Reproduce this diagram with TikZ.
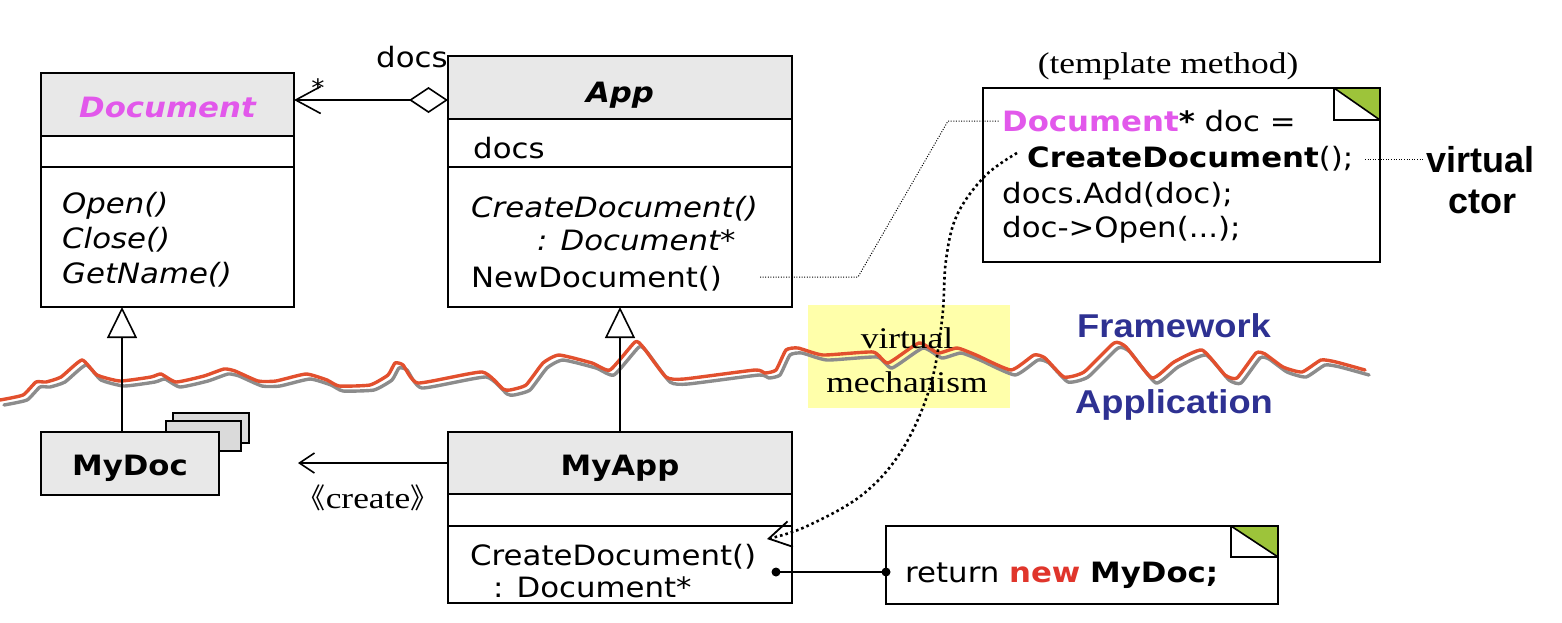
\documentclass[tikz,border=0pt]{standalone}
\usepackage{fontspec}
\setmainfont{DejaVu Sans}[FakeStretch=1.1]
\newfontfamily\tms{Liberation Serif}[FakeStretch=1.18]
\newfontfamily\ars{Liberation Sans}
\newfontfamily\arsw{Liberation Sans}[FakeStretch=1.1]
\newfontfamily\cjk{Noto Sans CJK SC}
\usetikzlibrary{arrows.meta,calc}
\definecolor{hdr}{RGB}{232,232,232}
\definecolor{stackc}{RGB}{218,218,218}
\definecolor{mag}{RGB}{226,88,235}
\definecolor{foldc}{RGB}{157,196,58}
\definecolor{wred}{RGB}{226,80,46}
\definecolor{wgray}{RGB}{140,140,140}
\definecolor{fblue}{RGB}{46,49,146}
\definecolor{nred}{RGB}{224,53,43}
\definecolor{yel}{RGB}{255,255,170}
\newcommand\fsz{\fontsize{28}{32}\selectfont}
\begin{document}
\begin{tikzpicture}[x=1pt,y=-1pt,
  umlbox/.style={draw, line width=2.4pt, rectangle, inner sep=0pt, outer sep=0pt},
  notebox/.style={draw, line width=1.8pt, fill=white, rectangle, inner sep=0pt, outer sep=0pt},
  txt/.style={anchor=base west, inner sep=0pt, font=\fsz},
  ctxt/.style={anchor=base, inner sep=0pt, font=\fsz},
  conn/.style={line width=1.6pt},
  finedots/.style={line width=1pt, dash pattern=on 1pt off 1.6pt},
  bigdots/.style={line width=2.6pt, dash pattern=on 2.6pt off 3pt},
  dotnode/.style={circle, fill=black, inner sep=0pt, minimum size=9pt},
  wave/.style={line width=3.4pt, line join=round, line cap=round}]
\useasboundingbox (0,0) rectangle (1562,622);

% ---------- yellow box ----------
\node[fill=yel, minimum width=202pt, minimum height=103pt, inner sep=0pt] (yb) at (909,356.5) {};

% ---------- wavy boundary ----------
\def\wavepts{(0,400) (23,395) (36,382) (46,382) (61,377) (82,360) (97,375) (120,381) (151,377) (161,374) (176,382) (204,376) (224,369) (235,371) (258,381) (276,381) (306,374) (327,380) (339,386) (370,385) (388,375) (395,363) (403,365) (418,383) (482,372) (503,389) (510,390) (526,385) (543,363) (559,355) (592,363) (610,370) (635,342) (643,347) (666,377) (684,379) (755,370) (765,373) (776,370) (786,350) (798,348) (823,355) (873,352) (888,363) (919,343) (938,353) (957,348) (976,355) (1011,370) (1034,355) (1045,358) (1064,377) (1084,372) (1114,343) (1126,347) (1152,378) (1174,362) (1202,350) (1225,375) (1237,378) (1256,353) (1265,354) (1283,367) (1302,372) (1321,360) (1336,362) (1365,370)}
\begin{scope}[shift={(4,5)}]
\draw[wave, wgray] plot[smooth, tension=0.3] coordinates \wavepts;
\end{scope}
\draw[wave, wred] plot[smooth, tension=0.3] coordinates \wavepts;

\node[ctxt, font=\tms\fontsize{30}{34}\selectfont] (vm1) at (907,348) {virtual};
\node[ctxt, font=\tms\fontsize{30}{34}\selectfont] (vm2) at (907,392) {mechanism};

% ---------- Document ----------
\fill[hdr] (41,73) rectangle (294,136);
\node[umlbox, minimum width=253pt, minimum height=234pt] (doc) at (167.5,190) {};
\draw[line width=2.4pt] (doc.west |- 0,136) -- (doc.east |- 0,136);
\draw[line width=2.4pt] (doc.west |- 0,167) -- (doc.east |- 0,167);
\node[ctxt, font=\fsz\bfseries\itshape, text=mag] (doct) at (167.5,117) {Document};
\node[txt, font=\fsz\itshape] (op1) at (62,213) {Open()};
\node[txt, font=\fsz\itshape] (op2) at (62,248) {Close()};
\node[txt, font=\fsz\itshape] (op3) at (62,283) {GetName()};

% ---------- App ----------
\fill[hdr] (448,56) rectangle (792,119);
\node[umlbox, minimum width=344pt, minimum height=251pt] (app) at (620,181.5) {};
\draw[line width=2.4pt] (app.west |- 0,119) -- (app.east |- 0,119);
\draw[line width=2.4pt] (app.west |- 0,167) -- (app.east |- 0,167);
\node[ctxt, font=\fsz\bfseries\itshape] (appt) at (620,102) {App};
\node[txt] (appa) at (473,158) {docs};
\node[txt, font=\fsz\itshape] (appo1) at (471,217) {CreateDocument()};
\node[txt, font=\fsz\itshape] (appo2) at (537,250) {: Document*};
\node[txt] (appo3) at (471,287) {NewDocument()};

% association
\node[txt] (docsl) at (376,67) {docs};
\node[anchor=base, inner sep=0pt, font=\fontsize{24}{28}\selectfont] (star) at (318,96) {*};
\coordinate (ay) at (0,100);
\draw[conn, {Diamond[open,length=39pt,width=26pt]}-{Straight Barb[length=25pt,width=27pt]}] (app.west |- ay) -- (doc.east |- ay);

% ---------- MyDoc ----------
\node[draw, line width=2pt, fill=stackc, minimum width=76pt, minimum height=30pt, inner sep=0pt] (st3) at (211,428) {};
\node[draw, line width=2pt, fill=stackc, minimum width=75pt, minimum height=30pt, inner sep=0pt] (st2) at (203.5,436) {};
\node[umlbox, fill=hdr, minimum width=178pt, minimum height=63pt] (mydoc) at (130,463.5) {};
\node[ctxt, font=\fsz\bfseries] (mydoct) at (130,475) {MyDoc};

% ---------- MyApp ----------
\fill[hdr] (448,432) rectangle (792,494);
\node[umlbox, minimum width=344pt, minimum height=171pt] (myapp) at (620,517.5) {};
\draw[line width=2.4pt] (myapp.west |- 0,494) -- (myapp.east |- 0,494);
\draw[line width=2.4pt] (myapp.west |- 0,526) -- (myapp.east |- 0,526);
\node[ctxt, font=\fsz\bfseries] (myappt) at (620,475) {MyApp};
\node[txt] (myo1) at (470,565) {CreateDocument()};
\node[txt] (myo2) at (493,597) {: Document*};

% generalizations
\coordinate (gx1) at (122,0);
\coordinate (gx2) at (620,0);
\draw[conn, -{Triangle[length=31pt,width=30pt,fill=white]}] (mydoc.north -| gx1) -- (doc.south -| gx1);
\draw[conn, -{Triangle[length=31pt,width=30pt,fill=white]}] (myapp.north -| gx2) -- (app.south -| gx2);

% create
\coordinate (crt) at (298,463);
\draw[conn, -{Straight Barb[length=15pt,width=20pt]}] (myapp.west |- crt) -- (crt);
\node[anchor=base, inner sep=0pt, font=\tms\fontsize{30}{34}\selectfont] (crl) at (368,508) {{\cjk\fontsize{28}{32}\selectfont 《}create{\cjk\fontsize{28}{32}\selectfont 》}};

% ---------- note 1 ----------
\node[anchor=base, inner sep=0pt, font=\tms\fontsize{30}{34}\selectfont] (tm) at (1168,73) {(template method)};
\node[notebox, minimum width=397pt, minimum height=174pt] (n1) at (1181.5,175) {};
\fill[foldc] ($(n1.north east)+(-46,0)$) -- (n1.north east) -- ($(n1.north east)+(0,32)$) -- cycle;
\draw[line width=1.6pt] ($(n1.north east)+(-46,0)$) -- ++(0,32) -- ++(46,0);
\draw[line width=1.6pt] ($(n1.north east)+(-46,0)$) -- ($(n1.north east)+(0,32)$);
\draw[line width=1.8pt] (n1.south west) rectangle (n1.north east);
\node[txt] (n1a) at (1002,131) {{\bfseries\color{mag}Document}{\bfseries *} doc =};
\node[txt] (n1b) at (1027,167) {{\bfseries CreateDocument}();};
\node[txt] (n1c) at (1002,203) {docs.Add(doc);};
\node[txt] (n1d) at (1002,237) {doc->Open(...);};

% virtual ctor
\node[ctxt, font=\ars\bfseries\fontsize{36}{40}\selectfont] (vc1) at (1480,172) {virtual};
\node[ctxt, font=\ars\bfseries\fontsize{36}{40}\selectfont] (vc2) at (1482,213) {ctor};
\coordinate (vcs) at (1365,159);
\coordinate (vce) at (1423,159);
\draw[finedots] (vcs) -- (vce);

% NewDocument -> note
\coordinate (nd) at (760,277);
\coordinate (nd2) at (1000,121);
\draw[finedots] (nd) -- (858,277) -- (948,121) -- (nd2);

% Framework / Application
\node[txt, font=\arsw\bfseries\fontsize{33}{38}\selectfont, text=fblue] (fw) at (1077,337) {Framework};
\node[txt, font=\arsw\bfseries\fontsize{33}{38}\selectfont, text=fblue] (ap) at (1075,413) {Application};

% ---------- note 2 ----------
\node[notebox, minimum width=392pt, minimum height=78pt] (n2) at (1082,565) {};
\fill[foldc] ($(n2.north east)+(-47,0)$) -- (n2.north east) -- ($(n2.north east)+(0,31)$) -- cycle;
\draw[line width=1.6pt] ($(n2.north east)+(-47,0)$) -- ++(0,31) -- ++(47,0);
\draw[line width=1.6pt] ($(n2.north east)+(-47,0)$) -- ($(n2.north east)+(0,31)$);
\draw[line width=1.8pt] (n2.south west) rectangle (n2.north east);
\node[txt] (n2t) at (905,582) {return {\bfseries\color{nred}new} {\bfseries MyDoc;}};

\node[dotnode] (d1) at (776,572) {};
\node[dotnode] (d2) at (n2.west |- d1) {};
\draw[conn] (d1.center) -- (d2.center);

% virtual mechanism dotted curve
\coordinate (vs) at (1017,153);
\coordinate (ve) at (767,539);
\draw[bigdots, -{Straight Barb[length=22pt,width=26pt,line width=1.8pt]}] plot[smooth, tension=0.6] coordinates {(vs) (985,176) (957,215) (946,260) (942,320) (930,387) (902,450) (862,495) (805,527) (ve)};
\end{tikzpicture}
\end{document}
